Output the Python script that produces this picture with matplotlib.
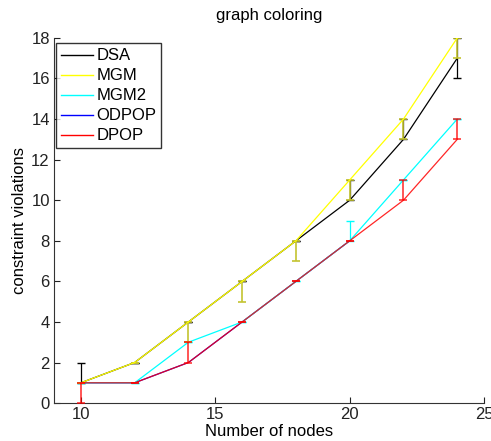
import matplotlib
matplotlib.use("Agg")
import matplotlib.pyplot as plt
from matplotlib.lines import Line2D
import numpy as np

plt.rcParams['font.family'] = ['Liberation Sans', 'DejaVu Sans']

nodes = [10, 12, 14, 16, 18, 20, 22, 24]
dsa = [1, 2, 4, 6, 8, 10, 13, 17]
dsa_lo = [0, 0, 0, 0, 0, 0, 0, 1]
dsa_hi = [1, 0, 0, 0, 0, 1, 1, 1]
mgm = [1, 2, 4, 6, 8, 11, 14, 18]
mgm_lo = [0, 0, 1, 1, 1, 1, 1, 1]
mgm_hi = [0, 0, 0, 0, 0, 0, 0, 0]
mgm2 = [1, 1, 3, 4, 6, 8, 11, 14]
mgm2_lo = [0, 0, 0, 0, 0, 0, 0, 0]
mgm2_hi = [0, 0, 0, 0, 0, 1, 0, 0]
odpop_nodes = [10, 12, 14, 16, 18, 20]
odpop = [1, 1, 2, 4, 6, 8]
dpop = [1, 1, 2, 4, 6, 8, 10, 13]
dpop_lo = [1, 0, 0, 0, 0, 0, 0, 0]
dpop_hi = [0, 0, 1, 0, 0, 0, 1, 1]

labels = ['DSA', 'MGM', 'MGM2', 'ODPOP', 'DPOP']
colors = ['#000000', '#ffff00', '#00ffff', '#0000ff', '#ff0000']

fig = plt.figure(figsize=(4.91, 4.41), dpi=100)
ax = fig.add_axes([0.110, 0.086, 0.876, 0.828])

cap = 2.6
ax.errorbar(nodes, dsa, yerr=[dsa_lo, dsa_hi], color=colors[0], lw=0.9,
            capsize=cap, elinewidth=0.9, zorder=3)
ax.errorbar(nodes, mgm, yerr=[mgm_lo, mgm_hi], color=colors[1], lw=0.9,
            ecolor='#c4c430', capsize=cap, elinewidth=1.2, capthick=1.2,
            zorder=4)
ax.errorbar(nodes, mgm2, yerr=[mgm2_lo, mgm2_hi], color=colors[2], lw=0.9,
            capsize=cap, elinewidth=0.9, zorder=3)
ax.plot(odpop_nodes, odpop, color=colors[3], lw=0.9, zorder=3)
ax.errorbar(nodes, dpop, yerr=[dpop_lo, dpop_hi], color=colors[4], lw=0.9,
            capsize=cap, elinewidth=1.1, capthick=1.1, alpha=0.85, zorder=5)

ax.set_xlim(9, 25)
ax.set_ylim(0, 18)
ax.set_xticks([10, 15, 20, 25])
ax.set_yticks(np.arange(0, 19, 2))
ax.spines['top'].set_visible(False)
ax.spines['right'].set_visible(False)
ax.spines['left'].set_color('#333333')
ax.spines['bottom'].set_color('#333333')
ax.tick_params(direction='in', labelsize=12, length=4, colors='#222222', pad=3)

ax.set_title('graph coloring', fontsize=12, pad=13)
ax.set_xlabel('Number of nodes', fontsize=12, labelpad=1)
ax.set_ylabel('constraint violations', fontsize=12, labelpad=3)

handles = [Line2D([], [], color=c, lw=1.0) for c in colors]
leg = ax.legend(handles, labels, loc='upper left', fontsize=12, frameon=True,
                fancybox=False, edgecolor='black', handlelength=1.9,
                handletextpad=0.2, borderaxespad=0.0, labelspacing=0.3,
                borderpad=0.3, bbox_to_anchor=(0.005, 0.985))
leg.get_frame().set_linewidth(1.0)

fig.savefig('out.png', dpi=100)
